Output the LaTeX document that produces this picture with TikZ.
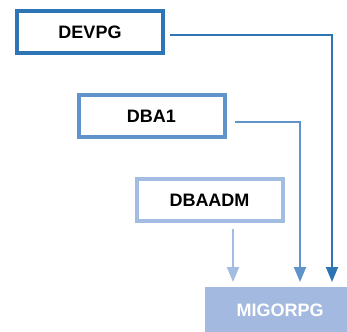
\documentclass[tikz,border=0pt]{standalone}
\usepackage{fontspec}
\setmainfont{Liberation Sans}
\usetikzlibrary{arrows.meta}
\definecolor{cA}{HTML}{2E75B6}
\definecolor{cB}{HTML}{6193CB}
\definecolor{cC}{HTML}{A3BCE2}
\definecolor{cD}{HTML}{A4B9DF}
\tikzset{
  srcbox/.style={draw=#1, line width=4pt, fill=white, rectangle, minimum width=146pt, minimum height=42pt, inner sep=0pt, font=\fontsize{18}{21}\selectfont\bfseries, text=black},
  conn/.style={draw=#1, line width=2pt, -{Triangle[width=12pt,length=15pt]}},
}
\begin{document}
\begin{tikzpicture}[x=1pt,y=-1pt]
\useasboundingbox (0,0) rectangle (347,331);
\node[srcbox=cA] (devpg) at (90,32) {DEVPG};
\node[srcbox=cB] (dba1) at (151.5,116) {DBA1};
\node[srcbox=cC] (dbaadm) at (209.5,200) {DBAADM};
\node[fill=cD, rectangle, minimum width=150pt, minimum height=46pt, inner sep=0pt, font=\fontsize{18}{21}\selectfont\bfseries, text=white, anchor=north west] (migorpg) at (205,287) {MIGORPG};
\coordinate (t1) at (233,282);
\coordinate (t2) at (300,282);
\coordinate (t3) at (332,282);
\draw[conn=cA] ([xshift=5pt,yshift=-3pt]devpg.east) -| (t3);
\draw[conn=cB] ([xshift=8pt,yshift=-6pt]dba1.east) -| (t2);
\draw[conn=cC] ([yshift=-6pt]dbaadm.south -| t1) -- (t1);
\end{tikzpicture}
\end{document}
